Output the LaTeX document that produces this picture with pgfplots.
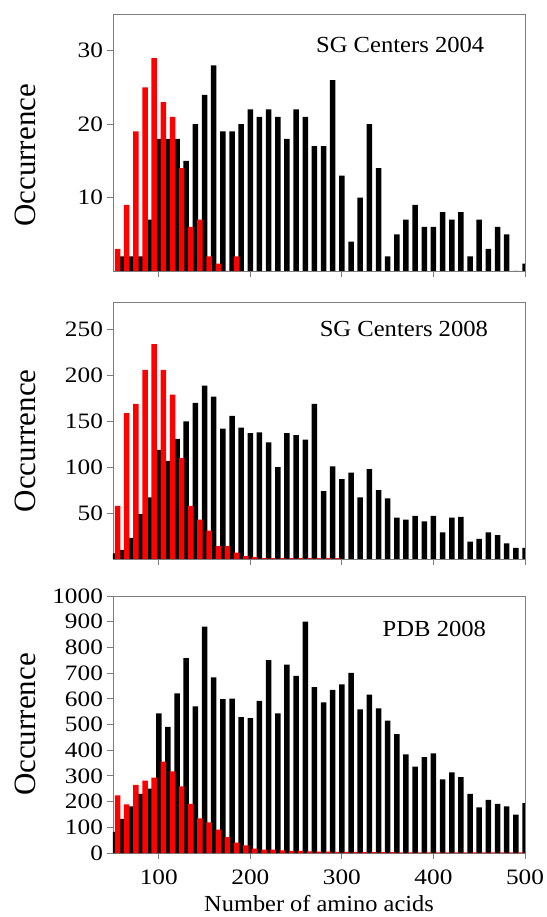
\documentclass[border=0pt]{standalone}
\usepackage{fontspec}
\setmainfont{Liberation Serif}
\usepackage{pgfplots}
\usepackage{pgfplotstable}
\pgfplotsset{compat=1.18}

\definecolor{axgray}{RGB}{125,125,125}
\definecolor{barred}{RGB}{255,0,0}

% panel 1: SG Centers 2004
\pgfplotstableread{
x y
60 2
70 2
80 2
90 7
100 18
110 18
120 18
130 15
140 20
150 24
160 28
170 19
180 19
190 20
200 22
210 21
220 22
230 21
240 18
250 22
260 21
270 17
280 17
290 26
300 13
310 4
320 10
330 20
340 14
350 2
360 5
370 7
380 9
390 6
400 6
410 8
420 7
430 8
440 2
450 7
460 3
470 6
480 5
490 0
500 1
}\blackA
\pgfplotstableread{
x y
55 3
65 9
75 19
85 25
95 29
105 23
115 21
125 14
135 6
145 7
155 2
165 1
175 0
185 2
}\redA

% panel 2: SG Centers 2008
\pgfplotstableread{
x y
50 6
60 10
70 23
80 49
90 67
100 119
110 107
120 131
130 150
140 170
150 189
160 177
170 142
180 156
190 143
200 137
210 138
220 127
230 100
240 137
250 135
260 130
270 169
280 74
290 101
300 87
310 94
320 67
330 98
340 75
350 66
360 45
370 43
380 47
390 41
400 47
410 29
420 45
430 46
440 19
450 22
460 29
470 26
480 17
490 12
500 12
}\blackB
\pgfplotstableread{
x y
55 58
65 159
75 169
85 206
95 234
105 206
115 179
125 110
135 58
145 43
155 31
165 14
175 14
185 7
195 3
205 2
215 1
225 1
235 1
245 1
255 1
265 1
275 1
285 1
295 1
}\redB

% panel 3: PDB 2008
\pgfplotstableread{
x y
50 82
60 133
70 181
80 230
90 250
100 543
110 491
120 621
130 758
140 571
150 881
160 683
170 599
180 601
190 529
200 525
210 592
220 750
230 543
240 733
250 689
260 900
270 645
280 586
290 635
300 656
310 701
320 559
330 616
340 563
350 515
360 463
370 384
380 336
390 373
400 388
410 286
420 314
430 295
440 230
450 178
460 207
470 191
480 181
490 149
500 194
}\blackC
\pgfplotstableread{
x y
55 224
65 189
75 265
85 282
95 293
105 356
115 318
125 259
135 191
145 135
155 119
165 91
175 62
185 40
195 30
205 17
215 13
225 13
235 10
245 8
255 8
265 6
275 5
285 5
295 4
305 4
315 4
325 3
335 3
345 3
355 3
365 2
375 2
385 2
395 2
405 2
415 2
425 2
435 2
445 2
455 2
465 2
475 2
485 2
495 2
}\redC

\pgfplotsset{
  histo/.style={
    scale only axis,
    width=412pt, height=257pt,
    anchor=south west,
    xmin=50, xmax=500,
    ymin=0,
    xtick={100,200,300,400,500},
    tick align=outside,
    xtick pos=bottom, ytick pos=left,
    major tick length=6pt,
    axis line style={axgray, line width=0.8pt},
    every tick/.style={axgray, line width=0.8pt},
    tick label style={font=\fontsize{22}{22}\selectfont, xscale=1.15},
    xticklabel style={yshift=-7pt},
    /pgf/number format/assume math mode=true,
    /pgf/number format/1000 sep={},
    scaled y ticks=false,
    ylabel={Occurrence},
    ylabel style={font=\fontsize{31}{31}\selectfont, anchor=center},
    xlabel style={font=\fontsize{23}{23}\selectfont, xscale=1.06, yshift=-4pt},
    clip=true,
  },
  blackbars/.style={ybar, bar shift=0pt, bar width=6, fill=black, draw=none},
  redbars/.style={ybar, bar shift=0pt, bar width=6, fill=barred, draw=none},
}
\tikzset{paneltitle/.style={font=\fontsize{23}{23}\selectfont, xscale=1.07, anchor=center}}

\begin{document}
\begin{tikzpicture}
\useasboundingbox (-113pt,-64pt) rectangle (433pt,853pt);

\begin{axis}[histo, at={(0pt,582pt)},
    ymax=35, ytick={10,20,30}, xticklabels={},
    ylabel style={at={(axis description cs:-0.212,0.45)}}]
  \addplot[blackbars] table {\blackA};
  \addplot[redbars] table {\redA};
  \node[paneltitle] at (rel axis cs:0.697,0.879) {SG Centers 2004};
\end{axis}

\begin{axis}[histo, at={(0pt,294pt)},
    ymax=280, ytick={50,100,150,200,250}, xticklabels={},
    ylabel style={at={(axis description cs:-0.212,0.46)}}]
  \addplot[blackbars] table {\blackB};
  \addplot[redbars] table {\redB};
  \node[paneltitle] at (rel axis cs:0.706,0.895) {SG Centers 2008};
\end{axis}

\begin{axis}[histo, at={(0pt,0pt)},
    ymax=1000, ytick={0,100,...,1000},
    xlabel={Number of amino acids},
    ylabel style={at={(axis description cs:-0.212,0.5)}}]
  \addplot[blackbars] table {\blackC};
  \addplot[redbars] table {\redC};
  \node[paneltitle] at (rel axis cs:0.78,0.872) {PDB 2008};
\end{axis}
\end{tikzpicture}
\end{document}
